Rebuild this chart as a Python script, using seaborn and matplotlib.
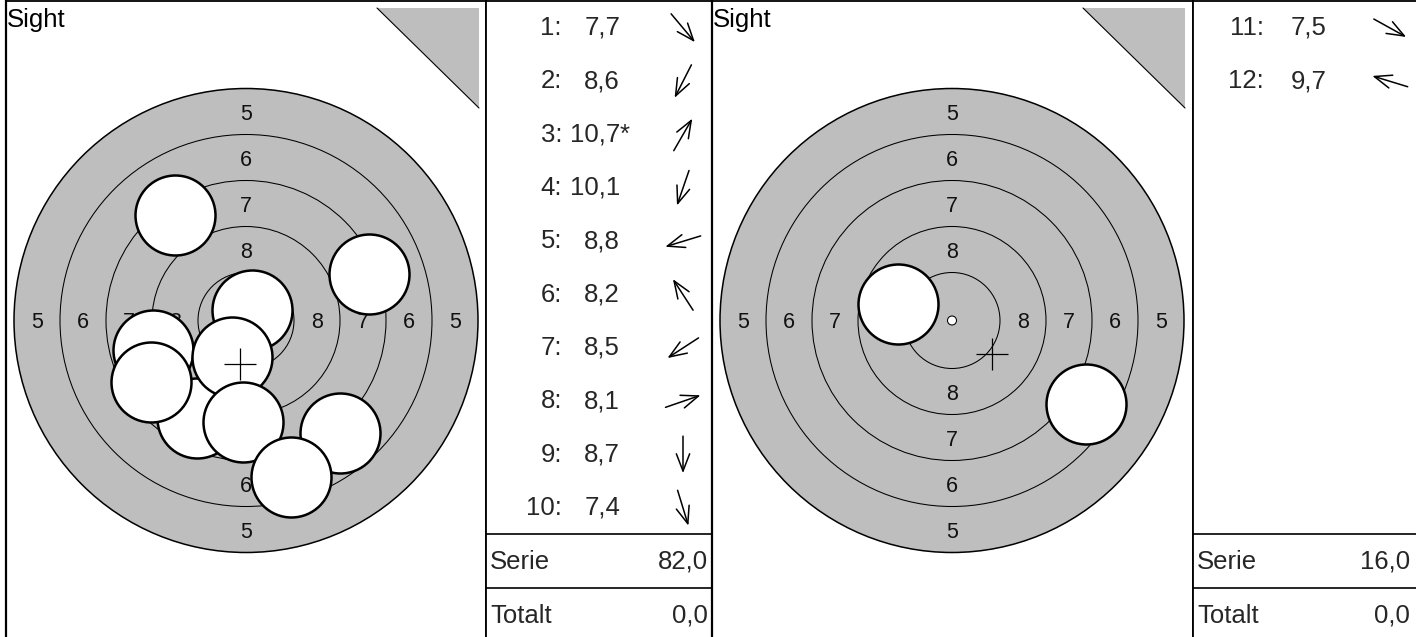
import numpy as np
import pandas as pd
import matplotlib
matplotlib.use("Agg")
import matplotlib.pyplot as plt
from matplotlib.patches import Circle, Polygon
import seaborn as sns

# ---- data ----
ring_radii = [232, 186, 140, 94, 48]
ring_labels = ["5", "6", "7", "8"]

# hits, relative to target centre (y up), in drawing order
left_hit_x = [-71, 123, 6, -93, -49, -14, -95, -3, 94, 45]
left_hit_y = [105.5, 46.5, 10.5, -29.5, -97.5, -36.5, -61.5, -101.5, -112.5, -156.5]
right_hit_x = [-54, 134]
right_hit_y = [17, -83]

left_shot_no = [1, 2, 3, 4, 5, 6, 7, 8, 9, 10]
left_scores = ["7,7", "8,6", "10,7*", "10,1", "8,8", "8,2", "8,5", "8,1", "8,7", "7,4"]
left_arrow_deg = [-50, -117, 60, -109, -163, 123, -147, 19, -90, -73]

right_shot_no = [11, 12]
right_scores = ["7,5", "9,7"]
right_arrow_deg = [-29, 163]

serie_values = ["82,0", "16,0"]
totalt_values = ["0,0", "0,0"]

# ---- figure set-up ----
sns.set_theme(style="white")
plt.rcParams["font.family"] = ["Liberation Sans", "DejaVu Sans"]

W, H = 1416, 637
fig = plt.figure(figsize=(W / 100, H / 100), dpi=100)
GRAY = "#bebebe"
CY = 320.5  # target centre, pixel row
FS = 18.5


def px_axes(x0, y0, x1, y1):
    return fig.add_axes([x0 / W, 1 - y1 / H, (x1 - x0) / W, (y1 - y0) / H])


panels = [
    dict(x0=6, split=486, x1=712, val_right=708, num_off=76,
         hx=left_hit_x, hy=left_hit_y, nos=left_shot_no, scores=left_scores,
         arrows=left_arrow_deg, serie=serie_values[0], totalt=totalt_values[0]),
    dict(x0=712, split=1193, x1=1418, val_right=1410, num_off=71,
         hx=right_hit_x, hy=right_hit_y, nos=right_shot_no, scores=right_scores,
         arrows=right_arrow_deg, serie=serie_values[1], totalt=totalt_values[1]),
]

for p in panels:
    cx = p["x0"] + 240
    # ---------- target ----------
    ax = px_axes(p["x0"], 1, p["split"], H)
    ax.set_xlim(-(cx - p["x0"]), p["split"] - cx)
    ax.set_ylim(-(H - CY), CY - 1)
    ax.set_xticks([])
    ax.set_yticks([])
    for side in ["left", "top", "right"]:
        ax.spines[side].set_color("black")
        ax.spines[side].set_linewidth(1.3)
    ax.spines["bottom"].set_visible(False)
    ax.spines["left"].set_linewidth(1.6)

    ax.add_patch(Circle((0, 0), ring_radii[0], facecolor=GRAY, edgecolor="black", lw=1.1, zorder=1))
    for r in ring_radii[1:]:
        ax.add_patch(Circle((0, 0), r, facecolor="none", edgecolor="black", lw=0.75, zorder=1))
    ax.add_patch(Circle((0, 0), 4.5, facecolor="white", edgecolor="black", lw=0.75, zorder=1.5))

    mids = [(a + b) / 2 for a, b in zip(ring_radii[:-1], ring_radii[1:])]
    for lab, m in zip(ring_labels, mids):
        for dx, dy in [(0, m), (0, -m), (-m, 0), (m, 0)]:
            ax.text(dx, dy - 2.5, lab, ha="center", va="center", fontsize=15.5, color="#111111", zorder=2)

    # corner triangle
    tri = [(131, CY - 8), (233, CY - 8), (233, CY - 108)]
    ax.add_patch(Polygon(tri, closed=True, facecolor=GRAY, edgecolor="none", zorder=1))
    ax.plot([tri[0][0], tri[2][0]], [tri[0][1], tri[2][1]], color="black", lw=0.8, zorder=1.2)

    ax.text(-(cx - p["x0"]) + 1, CY - 8, "Sight", ha="left", va="top", fontsize=18.5, color="black")

    hits = pd.DataFrame({"x": p["hx"], "y": p["hy"]})
    sns.scatterplot(data=hits, x="x", y="y", ax=ax, s=3318, marker="o", color="white",
                    edgecolor="black", linewidth=1.8, zorder=3, legend=False)
    mean = hits.mean().to_frame().T
    sns.scatterplot(data=mean, x="x", y="y", ax=ax, s=500, marker="+", color="black",
                    linewidth=0.9, zorder=4, legend=False)
    ax.set_xlabel("")
    ax.set_ylabel("")

    # ---------- table ----------
    tb = px_axes(p["split"], 1, p["x1"], H)
    tb.set_xlim(p["split"], p["x1"])
    tb.set_ylim(H, 1)
    tb.set_xticks([])
    tb.set_yticks([])
    for side in ["left", "top", "right"]:
        tb.spines[side].set_color("black")
        tb.spines[side].set_linewidth(1.3)
    tb.spines["bottom"].set_visible(False)

    row_h = 53.33
    for i, (no, sc, deg) in enumerate(zip(p["nos"], p["scores"], p["arrows"])):
        yc = 28 + row_h * i
        tb.text(p["split"] + p["num_off"], yc, f"{no}:", ha="right", va="center", fontsize=FS)
        tb.text(p["split"] + 134, yc, sc.rstrip("*"), ha="right", va="center", fontsize=FS)
        if sc.endswith("*"):
            tb.text(p["split"] + 134, yc, "*", ha="left", va="center", fontsize=FS)
        ax_c = p["split"] + 197
        L = 37
        dxa = L / 2 * np.cos(np.radians(deg))
        dya = -L / 2 * np.sin(np.radians(deg))
        tb.annotate("", xy=(ax_c + dxa, yc + dya), xytext=(ax_c - dxa, yc - dya),
                    arrowprops=dict(arrowstyle="->,head_length=0.62,head_width=0.24",
                                    lw=1.1, color="black", mutation_scale=20,
                                    shrinkA=0, shrinkB=0))

    tb.axhline(534, color="black", lw=1.2)
    tb.axhline(588, color="black", lw=1.2)
    tb.text(p["split"] + 4, 562, "Serie", ha="left", va="center", fontsize=FS)
    tb.text(p["val_right"], 562, p["serie"], ha="right", va="center", fontsize=FS)
    tb.text(p["split"] + 4, 616, "Totalt", ha="left", va="center", fontsize=FS)
    tb.text(p["val_right"], 616, p["totalt"], ha="right", va="center", fontsize=FS)

fig.savefig("out.png", dpi=100)
